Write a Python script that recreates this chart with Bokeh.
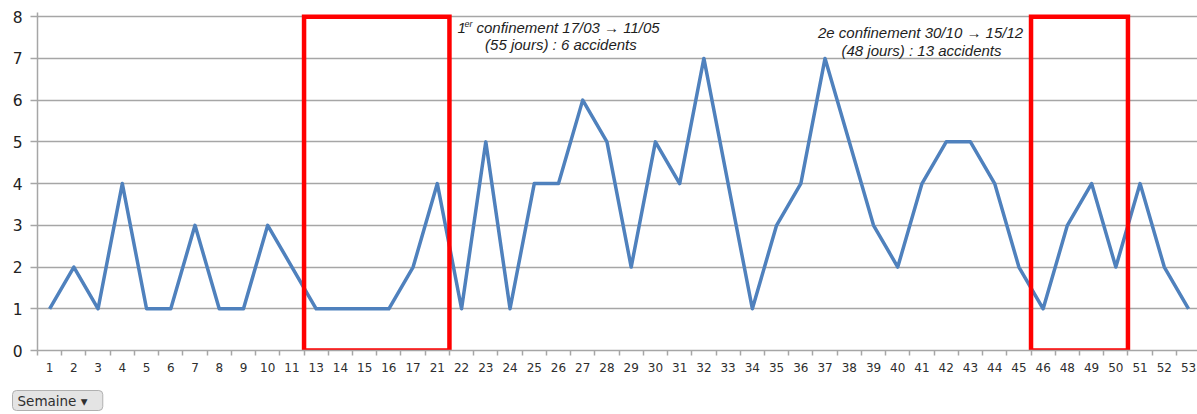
from bokeh.plotting import figure
from bokeh.models import Range1d, FixedTicker, Label, Title, LinearAxis
from bokeh.embed import file_html
from bokeh.resources import INLINE

# ---- data ----
weeks = ["1", "2", "3", "4", "5", "6", "7", "8", "9", "10", "11",
         "13", "14", "15", "16", "17", "21",
         "22", "23", "24", "25", "26", "27", "28", "29", "30", "31", "32", "33", "34",
         "35", "36", "37", "38", "39", "40", "41", "42", "43", "44", "45", "46",
         "48", "49", "50", "51", "52", "53"]
accidents = [1, 2, 1, 4, 1, 1, 3, 1, 1, 3, 2,
             1, 1, 1, 1, 2, 4,
             1, 5, 1, 4, 4, 6, 5, 2, 5, 4, 7, 4, 1,
             3, 4, 7, 5, 3, 2, 4, 5, 5, 4, 2, 1,
             3, 4, 2, 4, 2, 1]
confinement1_weeks = ["13", "14", "15", "16", "17", "21"]
confinement2_weeks = ["46", "48", "49", "50"]
y_ticks = [0, 1, 2, 3, 4, 5, 6, 7, 8]

ann1_line1 = "confinement 17/03 \u2192 11/05"
ann1_line2 = "(55 jours) : 6 accidents"
ann2_line1 = "2e confinement 30/10 \u2192 15/12"
ann2_line2 = "(48 jours) : 13 accidents"
field_label = "Semaine  \u25be"

idx = list(range(len(weeks)))

p = figure(width=1197, height=414, output_backend="svg", toolbar_location=None,
           x_range=Range1d(-0.5, 47.37), y_range=Range1d(0, 8.1),
           min_border_left=37, min_border_right=0, min_border_top=12, min_border_bottom=64)
p.outline_line_color = None
p.background_fill_color = "white"
p.border_fill_color = "white"

# grid
p.xgrid.grid_line_color = None
p.ygrid.ticker = FixedTicker(ticks=y_ticks)
p.ygrid.grid_line_color = "#a6a6a6"
p.ygrid.grid_line_width = 1.5

# y axis
p.yaxis.ticker = FixedTicker(ticks=y_ticks)
p.yaxis.axis_line_color = "#a6a6a6"
p.yaxis.axis_line_width = 1.5
p.yaxis.major_tick_line_color = "#a6a6a6"
p.yaxis.major_tick_line_width = 1.5
p.yaxis.major_tick_out = 7
p.yaxis.major_tick_in = 0
p.yaxis.minor_tick_line_color = None
p.yaxis.major_label_standoff = 8
p.yaxis.major_label_text_font = "DejaVu Sans"
p.yaxis.major_label_text_font_size = "15.5px"
p.yaxis.major_label_text_color = "#222222"

# x axis
p.xaxis.ticker = FixedTicker(ticks=idx, minor_ticks=[i - 0.5 for i in range(len(weeks) + 1)])
p.xaxis.major_label_overrides = {i: w for i, w in enumerate(weeks)}
p.xaxis.axis_line_color = "#a6a6a6"
p.xaxis.axis_line_width = 1.5
p.xaxis.major_tick_line_color = None
p.xaxis.major_tick_out = 0
p.xaxis.major_tick_in = 0
p.xaxis.minor_tick_line_color = "#a6a6a6"
p.xaxis.minor_tick_line_width = 1.5
p.xaxis.minor_tick_out = 5
p.xaxis.minor_tick_in = 0
p.xaxis.major_label_standoff = 7
p.xaxis.major_label_text_font = "DejaVu Sans"
p.xaxis.major_label_text_font_size = "12px"
p.xaxis.major_label_text_color = "#2e2e2e"

# spacer axis (no visible marks) to push the field button down
spacer = LinearAxis(ticker=FixedTicker(ticks=[0]), major_label_overrides={0: ""},
                    axis_line_color=None, major_tick_line_color=None, minor_tick_line_color=None,
                    major_tick_out=14, major_tick_in=0, minor_tick_out=0,
                    major_label_standoff=0)
p.add_layout(spacer, "below")

# series
p.line(x=idx, y=accidents, line_color="#4f81bd", line_width=3.5, line_join="round")

# confinement boxes
def bounds(sel):
    i0 = weeks.index(sel[0])
    i1 = weeks.index(sel[-1])
    return i0 - 0.5, i1 + 0.5

b1 = bounds(confinement1_weeks)
b2 = bounds(confinement2_weeks)
p.quad(left=[b1[0], b2[0]], right=[b1[1], b2[1]], bottom=[0, 0], top=[y_ticks[-1]] * 2,
       fill_alpha=0, line_color="#ff0000", line_width=4.5, line_join="miter")

# annotations
afont = "Liberation Sans"
acol = "#1e1e1e"
asize = "15px"
def lab(x, y, text, align="left", size=asize, xo=0, yo=0):
    p.add_layout(Label(x=x, y=y, text=text, text_align=align, text_baseline="middle",
                       text_font=afont, text_font_style="italic", text_font_size=size,
                       text_color=acol, x_offset=xo, y_offset=yo))

lab(16.83, 7.74, "1")
lab(16.83, 7.74, "er", size="9px", xo=7, yo=4)
lab(16.83, 7.74, ann1_line1, xo=19)
lab(21.1, 7.33, ann1_line2, align="center")
lab(35.94, 7.62, ann2_line1, align="center")
lab(35.98, 7.19, ann2_line2, align="center")

# "Semaine" field button
p.add_layout(Title(text=field_label, align="left", offset=-25, standoff=0,
                   text_font="DejaVu Sans", text_font_size="13.5px", text_font_style="normal",
                   text_color="#2f2f2f",
                   background_fill_color="#e4e4e4", border_line_color="#b0b0b0",
                   border_line_width=1, border_radius=4,
                   padding=dict(left=5, right=11, top=2, bottom=2)), "below")

open("out.html", "w").write(file_html(p, INLINE))
